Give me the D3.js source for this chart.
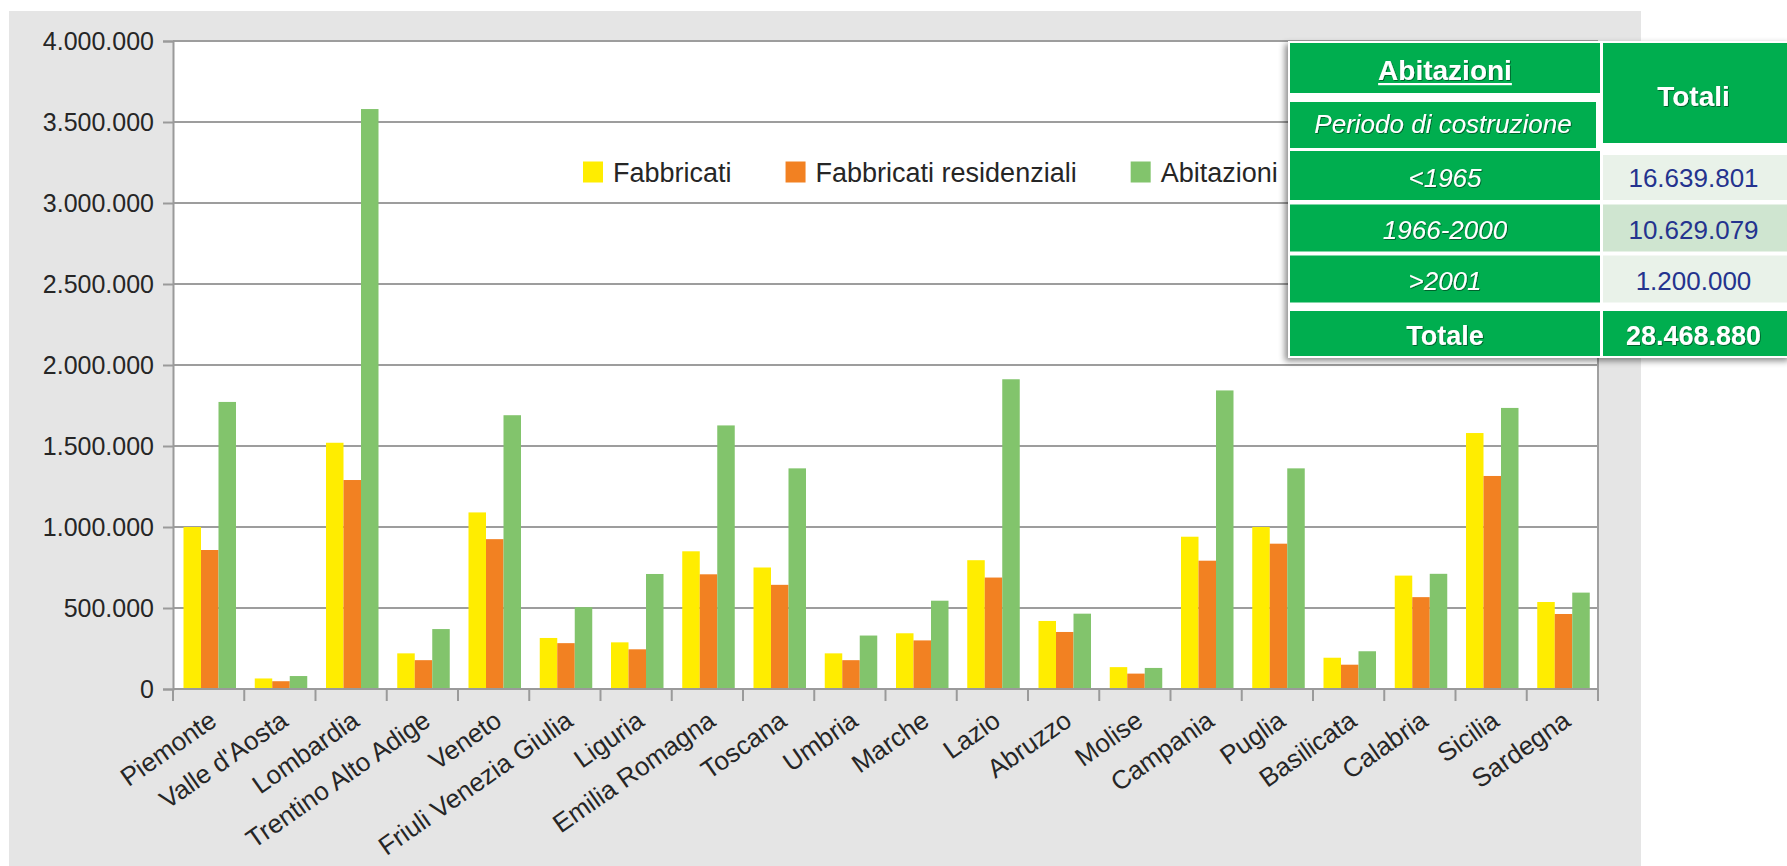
<!DOCTYPE html>
<html>
<head>
<meta charset="utf-8">
<script src="https://cdn.jsdelivr.net/npm/d3@7"></script>
<style>
  html, body { margin: 0; padding: 0; background: #ffffff; }
  svg { display: block; font-family: "Liberation Sans", Arial, sans-serif; }
</style>
</head>
<body>
<svg id="chart" width="1787" height="866"></svg>
<script>
// Regioni italiane
const regions = [
  "Piemonte", "Valle d'Aosta", "Lombardia", "Trentino Alto Adige", "Veneto",
  "Friuli Venezia Giulia", "Liguria", "Emilia Romagna", "Toscana", "Umbria",
  "Marche", "Lazio", "Abruzzo", "Molise", "Campania", "Puglia", "Basilicata",
  "Calabria", "Sicilia", "Sardegna"
];

// Numero di fabbricati, fabbricati residenziali e abitazioni per regione
const fabbricati = [
  1000000, 65000, 1520000, 220000, 1090000, 315000, 288000, 850000, 750000, 220000,
  344000, 795000, 420000, 135000, 940000, 1000000, 193000, 700000, 1580000, 537000
];
const fabbricatiResidenziali = [
  858000, 48000, 1290000, 178000, 925000, 283000, 245000, 708000, 643000, 178000,
  300000, 688000, 352000, 95000, 792000, 897000, 150000, 567000, 1315000, 463000
];
const abitazioni = [
  1772000, 80000, 3580000, 370000, 1690000, 505000, 710000, 1627000, 1362000, 330000,
  545000, 1912000, 465000, 130000, 1843000, 1362000, 233000, 711000, 1735000, 595000
];

const seriesNames = ["Fabbricati", "Fabbricati residenziali", "Abitazioni"];
const seriesColors = ["#ffed00", "#f28122", "#82c46c"];

const yTicks = [0, 500000, 1000000, 1500000, 2000000, 2500000, 3000000, 3500000, 4000000];

// Abitazioni per periodo di costruzione
const periodi = ["<1965", "1966-2000", ">2001"];
const abitazioniPeriodo = [16639801, 10629079, 1200000];

const seriesValues = [fabbricati, fabbricatiResidenziali, abitazioni];

const it = d3.formatLocale({ decimal: ",", thousands: ".", grouping: [3], currency: ["€", ""] });
const fmt = it.format(",d");

const svg = d3.select("#chart");
const W = 1787, H = 866;

// Sfondo
svg.append("rect").attr("width", W).attr("height", H).attr("fill", "#ffffff");
svg.append("rect").attr("x", 9).attr("y", 11).attr("width", 1632).attr("height", H - 11).attr("fill", "#e5e5e5");

// Area del grafico
const plot = { left: 173, right: 1598, top: 41, bottom: 689 };

const x0 = d3.scaleBand().domain(regions).range([plot.left, plot.right]).paddingInner(0).paddingOuter(0);
const x1 = d3.scaleBand().domain(seriesNames).range([10.5, 10.5 + 52.5]).padding(0);
const y = d3.scaleLinear().domain([0, 4000000]).range([plot.bottom, plot.top]);
const color = d3.scaleOrdinal().domain(seriesNames).range(seriesColors);

svg.append("rect")
  .attr("x", plot.left).attr("y", plot.top)
  .attr("width", plot.right - plot.left).attr("height", plot.bottom - plot.top)
  .attr("fill", "#ffffff");

// Griglia orizzontale
svg.append("g").selectAll("line")
  .data(yTicks.filter(d => d > 0))
  .join("line")
  .attr("x1", plot.left).attr("x2", plot.right)
  .attr("y1", d => y(d)).attr("y2", d => y(d))
  .attr("stroke", "#9d9d9d").attr("stroke-width", 2);

// Bordo destro dell'area
svg.append("line")
  .attr("x1", plot.right).attr("x2", plot.right)
  .attr("y1", plot.top).attr("y2", plot.bottom)
  .attr("stroke", "#a0a0a0").attr("stroke-width", 2);

// Barre raggruppate
const groups = svg.append("g").selectAll("g")
  .data(regions)
  .join("g")
  .attr("transform", d => `translate(${x0(d)},0)`);

groups.selectAll("rect")
  .data((d, i) => seriesNames.map((s, k) => ({ s, v: seriesValues[k][i] })))
  .join("rect")
  .attr("x", d => x1(d.s))
  .attr("width", x1.bandwidth())
  .attr("y", d => y(d.v))
  .attr("height", d => y(0) - y(d.v))
  .attr("fill", d => color(d.s));

// Asse Y
const yAxis = d3.axisLeft(y).tickValues(yTicks).tickFormat(d => fmt(d)).tickSize(10).tickPadding(9);
const gy = svg.append("g").attr("transform", `translate(${plot.left},0)`).call(yAxis);
gy.select(".domain").attr("stroke", "#9a9a9a").attr("stroke-width", 2);
gy.selectAll(".tick line").attr("stroke", "#9a9a9a").attr("stroke-width", 2);
gy.selectAll(".tick text")
  .attr("fill", "#262626")
  .style("font-size", "25px")
  .style("font-family", "'Liberation Sans', Arial, sans-serif");

// Asse X: tacche ai confini delle categorie
const gx = svg.append("g");
gx.append("line")
  .attr("x1", plot.left).attr("x2", plot.right)
  .attr("y1", plot.bottom).attr("y2", plot.bottom)
  .attr("stroke", "#9a9a9a").attr("stroke-width", 2);
const boundaries = regions.map(r => x0(r)).concat([plot.right]);
gx.selectAll("line.tk")
  .data(boundaries)
  .join("line")
  .attr("class", "tk")
  .attr("x1", d => d).attr("x2", d => d)
  .attr("y1", plot.bottom).attr("y2", plot.bottom + 12)
  .attr("stroke", "#9a9a9a").attr("stroke-width", 2);

gx.selectAll("text")
  .data(regions)
  .join("text")
  .attr("transform", d => `translate(${x0(d) + x0.bandwidth() / 2 - 1},${plot.bottom + 20}) rotate(-35)`)
  .attr("text-anchor", "end")
  .attr("dy", "0.72em")
  .attr("fill", "#262626")
  .style("font-size", "26px")
  .text(d => d);

// Legenda
const legend = svg.append("g").attr("transform", "translate(583,172)");
let lx = 0;
seriesNames.forEach((name, i) => {
  const g = legend.append("g").attr("transform", `translate(${lx},0)`);
  g.append("rect").attr("x", 0).attr("y", -10.5).attr("width", 20).attr("height", 21).attr("fill", seriesColors[i]);
  const t = g.append("text")
    .attr("x", 30).attr("y", 0).attr("dy", "0.36em")
    .attr("fill", "#262626")
    .style("font-size", "27px")
    .text(name);
  lx += 30 + t.node().getComputedTextLength() + 54;
});

// Tabella riassuntiva delle abitazioni
const defs = svg.append("defs");
const sh = defs.append("filter").attr("id", "tshadow").attr("x", "-10%").attr("y", "-10%").attr("width", "120%").attr("height", "125%");
sh.append("feDropShadow").attr("dx", -3).attr("dy", 3).attr("stdDeviation", 3).attr("flood-color", "#000").attr("flood-opacity", 0.45);
const txs = defs.append("filter").attr("id", "txtshadow").attr("x", "-5%").attr("y", "-20%").attr("width", "110%").attr("height", "140%");
txs.append("feDropShadow").attr("dx", 0.8).attr("dy", 0.8).attr("stdDeviation", 0.6).attr("flood-color", "#000").attr("flood-opacity", 0.55);

const tb = { left: 1288, mid: 1601, right: 1792, top: 41, bottom: 358 };
const green = "#00ae4f";
const table = svg.append("g");
table.append("rect")
  .attr("x", tb.left).attr("y", tb.top)
  .attr("width", tb.right - tb.left).attr("height", tb.bottom - tb.top)
  .attr("fill", "#ffffff").attr("filter", "url(#tshadow)");

const lc = { x: tb.left + 2, w: tb.mid - tb.left - 3 };
const rc = { x: tb.mid + 2, w: tb.right - tb.mid - 2 };

function cell(x, yy, w, h, fill) {
  table.append("rect").attr("x", x).attr("y", yy).attr("width", w).attr("height", h).attr("fill", fill);
}
function label(x, yy, txt, opts) {
  const t = table.append("text")
    .attr("x", x).attr("y", yy)
    .attr("text-anchor", "middle")
    .attr("dy", "0.36em")
    .attr("fill", opts.fill || "#ffffff")
    .style("font-size", (opts.size || 26) + "px")
    .style("font-weight", opts.bold ? "bold" : "normal")
    .style("font-style", opts.italic ? "italic" : "normal")
    .text(txt);
  if (opts.shadow !== false && (opts.fill || "#ffffff") === "#ffffff") t.attr("filter", "url(#txtshadow)");
  return t;
}

// Intestazione
cell(lc.x, 43, lc.w, 50, green);
const hdr = label(lc.x + lc.w / 2, 70, "Abitazioni", { bold: true, size: 28 });
const hb = hdr.node().getBBox();
table.append("rect").attr("x", hb.x).attr("y", 83).attr("width", hb.width).attr("height", 2.2).attr("fill", "#ffffff");
cell(lc.x, 102, lc.w - 4, 46, green);
label(lc.x + (lc.w - 4) / 2, 124, "Periodo di costruzione", { italic: true, size: 26 });
cell(rc.x, 43, rc.w, 100, green);
label(tb.mid + (tb.right - tb.mid - 6) / 2, 96, "Totali", { bold: true, size: 28 });

// Righe per periodo
const rowTops = [151, 204.5, 255.5];
const rowH = 47;
const valueFills = ["#e9f2e9", "#cfe5d0", "#e9f2e9"];
periodi.forEach((p, i) => {
  const top = rowTops[i];
  cell(lc.x, top, lc.w, i === 0 ? rowH + 2 : rowH, green);
  const vt = i === 0 ? top + 4 : top;
  cell(rc.x, vt, rc.w, top + (i === 0 ? rowH + 2 : rowH) - vt, valueFills[i]);
  const cy = top + (i === 0 ? rowH + 2 : rowH) / 2 + 2;
  label(lc.x + lc.w / 2, cy, p, { italic: true, size: 26 });
  label(tb.mid + (tb.right - tb.mid - 6) / 2, cy, fmt(abitazioniPeriodo[i]), { size: 26, fill: "#24338e" });
});

// Riga del totale
cell(lc.x, 311, lc.w, 45, green);
cell(rc.x, 311, rc.w, 45, green);
label(lc.x + lc.w / 2, 335, "Totale", { bold: true, size: 27 });
label(tb.mid + (tb.right - tb.mid - 6) / 2, 335, fmt(d3.sum(abitazioniPeriodo)), { bold: true, size: 27 });
</script>
</body>
</html>
